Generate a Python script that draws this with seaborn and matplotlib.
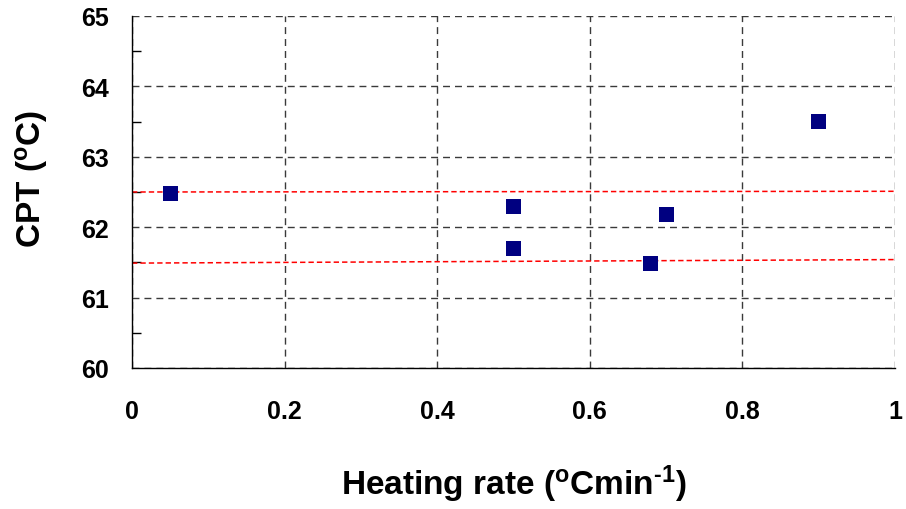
import matplotlib
matplotlib.use("Agg")
import matplotlib.pyplot as plt
import seaborn as sns
import pandas as pd
from matplotlib.ticker import MultipleLocator

# Data
heating_rate = [0.05, 0.5, 0.5, 0.68, 0.7, 0.9]
cpt = [62.48, 62.30, 61.70, 61.49, 62.18, 63.50]
upper_band_x = [0.0, 1.0]
upper_band_y = [62.50, 62.51]
lower_band_x = [0.0, 1.0]
lower_band_y = [61.49, 61.54]
x_ticks = [0, 0.2, 0.4, 0.6, 0.8, 1]
x_tick_labels = ["0", "0.2", "0.4", "0.6", "0.8", "1"]
y_ticks = [60, 61, 62, 63, 64, 65]

sns.set_theme(style="white")
plt.rcParams["font.family"] = ["Liberation Sans", "DejaVu Sans"]
plt.rcParams["font.weight"] = "bold"
plt.rcParams["text.color"] = "black"
plt.rcParams["axes.labelcolor"] = "black"
plt.rcParams["xtick.color"] = "black"
plt.rcParams["ytick.color"] = "black"
plt.rcParams["mathtext.fontset"] = "custom"
plt.rcParams["mathtext.rm"] = "Liberation Sans:bold"
plt.rcParams["mathtext.bf"] = "Liberation Sans:bold"
plt.rcParams["mathtext.it"] = "Liberation Sans:bold"

fig = plt.figure(figsize=(9.06, 5.10), dpi=100)
ax = fig.add_axes([132/906, 1-369/510, (895-132)/906, (369-17)/510])

df = pd.DataFrame({"x": heating_rate, "y": cpt})

ax.set_xlim(0, 1)
ax.set_ylim(60, 65)
ax.set_xticks(x_ticks)
ax.set_xticklabels(x_tick_labels)
ax.set_yticks(y_ticks)
ax.yaxis.set_minor_locator(MultipleLocator(0.5))

ax.grid(True, which="major", color="#3a3a3a", linestyle=(0, (5, 3.6)), linewidth=1.0)
ax.set_axisbelow(True)

sns.lineplot(x=upper_band_x, y=upper_band_y, ax=ax, color="#ff0000", linewidth=1.1,
             linestyle=(0, (3.5, 2)), zorder=2)
sns.lineplot(x=lower_band_x, y=lower_band_y, ax=ax, color="#ff0000", linewidth=1.1,
             linestyle=(0, (3.5, 2)), zorder=2)
sns.scatterplot(data=df, x="x", y="y", ax=ax, marker="s", s=118, color="#000080",
                edgecolor="none", linewidth=0, zorder=3, clip_on=False)

for side in ["top", "right"]:
    ax.spines[side].set_visible(False)
for side in ["left", "bottom"]:
    ax.spines[side].set_color("black")
    ax.spines[side].set_linewidth(1.0)

ax.tick_params(axis="both", which="major", direction="inout", length=15, width=1,
               color="black", labelcolor="black", labelsize=18)
ax.tick_params(axis="x", which="major", pad=15)
ax.tick_params(axis="y", which="major", pad=9)
ax.tick_params(axis="y", which="minor", direction="in", length=6.5, width=1, color="black", left=True)
for lab in ax.get_xticklabels() + ax.get_yticklabels():
    lab.set_fontweight("bold")

ax.set_xlabel(r"Heating rate ($^{\mathrm{o}}$Cmin$^{\text{-}\mathrm{1}}$)", fontsize=24,
              fontweight="bold", labelpad=28, color="black")
ax.set_ylabel(r"CPT ($^{\mathrm{o}}$C)", fontsize=24, fontweight="bold", color="black")
ax.yaxis.set_label_coords(-0.1075, 0.54)

fig.savefig("out.png", dpi=100)
